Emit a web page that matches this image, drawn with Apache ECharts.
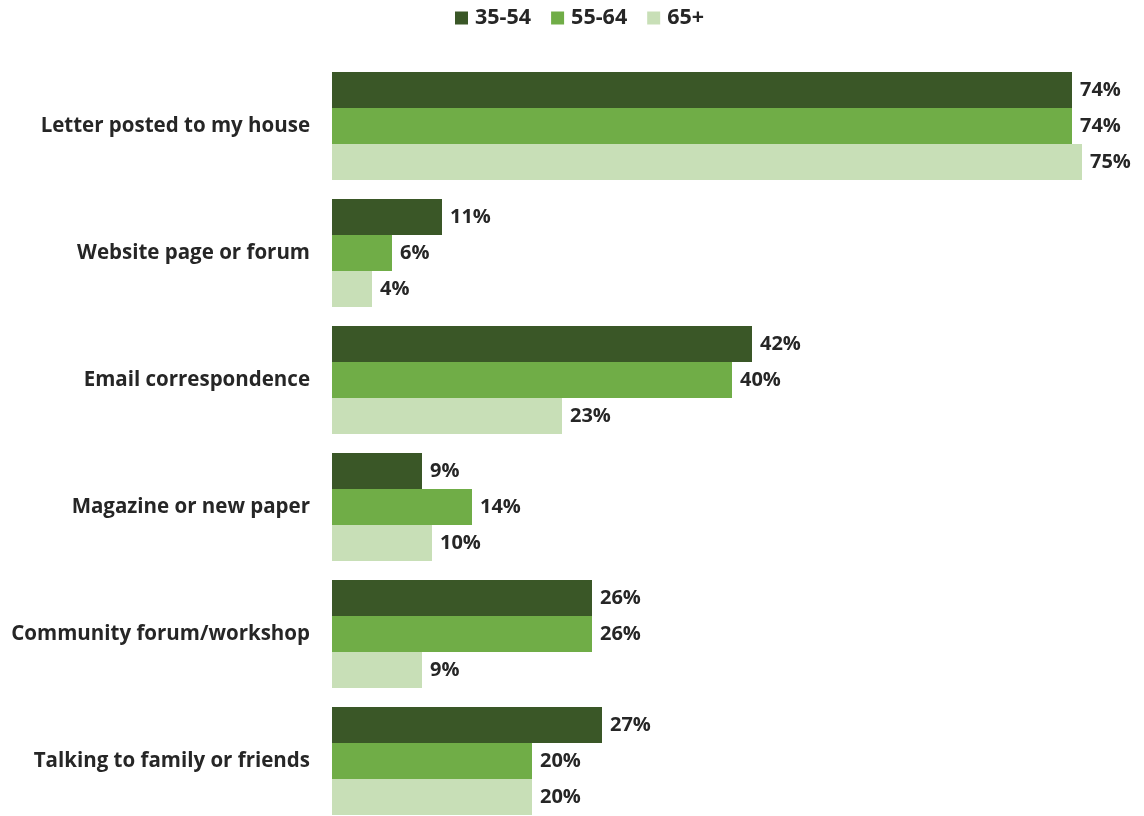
<!DOCTYPE html>
<html>
<head>
<meta charset="utf-8">
<script src="https://cdn.jsdelivr.net/npm/echarts@6/dist/echarts.min.js"></script>
<style>
  html, body { margin: 0; padding: 0; background: #ffffff; }
  #chart { width: 1144px; height: 816px; }
</style>
</head>
<body>
<div id="chart"></div>
<script>
// Information channels by age group (% of respondents)
const categories = [
  'Letter posted to my house',
  'Website page or forum',
  'Email correspondence',
  'Magazine or new paper',
  'Community forum/workshop',
  'Talking to family or friends'
];
const ages35to54 = [74, 11, 42, 9, 26, 27];
const ages55to64 = [74, 6, 40, 14, 26, 20];
const ages65plus = [75, 4, 23, 10, 9, 20];
const seriesNames = ['35-54', '55-64', '65+'];

const colors = ['#3A5727', '#70AD47', '#C8DFB7'];
const fontFamily = '"Open Sans", "Noto Sans", sans-serif';
const textColor = '#262626';

function makeSeries(name, data, color) {
  return {
    name: name,
    type: 'bar',
    data: data,
    barGap: '0%',
    barWidth: 36,
    itemStyle: { color: color },
    label: {
      show: true,
      position: 'right',
      distance: 8,
      formatter: '{c}%',
      color: textColor,
      fontFamily: fontFamily,
      fontWeight: 'bold',
      fontSize: 20
    }
  };
}

const chart = echarts.init(document.getElementById('chart'), null, { renderer: 'canvas' });
chart.setOption({
  animation: false,
  color: colors,
  legend: {
    data: seriesNames,
    top: 2,
    left: 450,
    itemWidth: 13,
    itemHeight: 13,
    itemGap: 20,
    icon: 'rect',
    textStyle: {
      color: textColor, fontFamily: fontFamily, fontWeight: 'bold', fontSize: 21.5,
      padding: [0, 0, 0, 2]
    }
  },
  // category positions sit on ticks so the six groups are evenly spread
  grid: { left: 332, width: 800, top: 126, height: 635, containLabel: false },
  xAxis: {
    type: 'value',
    min: 0,
    max: 80,
    show: false
  },
  yAxis: {
    type: 'category',
    data: categories,
    inverse: true,
    boundaryGap: false,
    axisLine: { show: false },
    axisTick: { show: false },
    splitLine: { show: false },
    axisLabel: {
      margin: 22,
      color: textColor,
      fontFamily: fontFamily,
      fontWeight: 'bold',
      fontSize: 20.5
    }
  },
  series: [
    makeSeries(seriesNames[0], ages35to54, colors[0]),
    makeSeries(seriesNames[1], ages55to64, colors[1]),
    makeSeries(seriesNames[2], ages65plus, colors[2])
  ]
});
</script>
</body>
</html>
